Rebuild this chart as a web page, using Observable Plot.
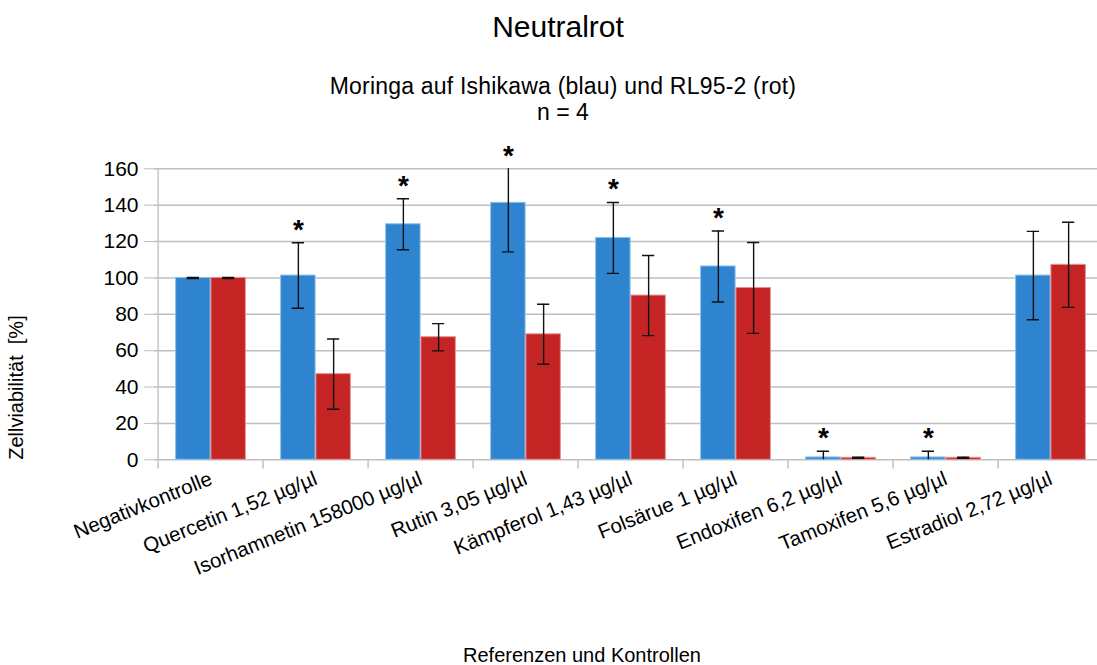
<!DOCTYPE html>
<html>
<head>
<meta charset="utf-8">
<script src="https://cdn.jsdelivr.net/npm/d3@7"></script>
<script src="https://cdn.jsdelivr.net/npm/@observablehq/plot@0.6"></script>
<style>
  html, body { margin: 0; padding: 0; background: #fff; }
  body { width: 1097px; height: 665px; position: relative; overflow: hidden; font-family: "Liberation Sans", Arial, sans-serif; color: #000; }
  .t { position: absolute; transform: translate(-50%, 0); white-space: nowrap; text-align: center; }
  #title { left: 558px; top: 11.5px; font-size: 30px; line-height: 30px; }
  #sub1 { left: 563px; top: 75px; font-size: 23px; line-height: 23px; letter-spacing: 0.2px; }
  #sub2 { left: 563px; top: 100.5px; font-size: 23px; line-height: 23px; }
  #xlabel { left: 582px; top: 645px; font-size: 20px; line-height: 20px; }
  #chart { position: absolute; left: 0; top: 122px; }
  #chart svg text { white-space: pre; }
</style>
</head>
<body>
<div id="title" class="t">Neutralrot</div>
<div id="sub1" class="t">Moringa auf Ishikawa (blau) und RL95-2 (rot)</div>
<div id="sub2" class="t">n = 4</div>
<div id="chart"></div>
<div id="xlabel" class="t">Referenzen und Kontrollen</div>
<script>
// ---- data ----
const categories = [
  "Negativkontrolle",
  "Quercetin 1,52 µg/µl",
  "Isorhamnetin 158000 µg/µl",
  "Rutin 3,05 µg/µl",
  "Kämpferol 1,43 µg/µl",
  "Folsärue 1 µg/µl",
  "Endoxifen 6,2 µg/µl",
  "Tamoxifen 5,6 µg/µl",
  "Estradiol 2,72 µg/µl"
];
const ishikawa    = [100, 101.3, 129.5, 141.3, 122.0, 106.3, 1.3, 1.3, 101.3];
const ishikawaErr = [0.3, 18.0, 14.0, 27.0, 19.5, 19.5, 3.4, 3.4, 24.3];
const rl95        = [100, 47.1, 67.4, 69.0, 90.3, 94.5, 1.1, 1.1, 107.2];
const rl95Err     = [0.3, 19.3, 7.5, 16.5, 22.0, 25.0, 0.3, 0.3, 23.4];
const significant = [false, true, true, true, true, true, true, true, false];
const yTicks = [0, 20, 40, 60, 80, 100, 120, 140, 160];
const yLabel = "Zellviabilität\u00a0 [%]";

// ---- layout ----
const W = 1097, H = 500;
const X0 = 154, X1 = 1106;             // plot area (right edge cropped by the picture)
const BW = (X1 - X0) / categories.length;
const CAP = 13;
const BLUE = "#2f84d0", RED = "#c42424";
const GRID = "#bfbfbf";
const YMAX = 160;

const blueData = categories.map((c, i) => ({cat: c, v: ishikawa[i], e: ishikawaErr[i], sig: significant[i]}));
const redData  = categories.map((c, i) => ({cat: c, v: rl95[i], e: rl95Err[i]}));

const chart = Plot.plot({
  width: W,
  height: H,
  marginLeft: X0,
  marginRight: 0,
  marginTop: 46.3,
  marginBottom: 162.7,
  style: {fontFamily: '"Liberation Sans", Arial, sans-serif', color: "#000", background: "transparent"},
  x: {domain: categories, range: [X0, X1], padding: 0, axis: null},
  y: {domain: [0, YMAX], axis: null},
  marks: [
    // grid
    Plot.ruleY(yTicks, {stroke: GRID, strokeWidth: 1.4}),
    // y axis line
    Plot.ruleX([categories[0]], {x: d => d, dx: -BW / 2, y1: 0, y2: YMAX, stroke: GRID, strokeWidth: 1.4}),
    // category boundary ticks
    Plot.ruleX(categories, {x: d => d, dx: -BW / 2, y1: 0, y2: -5, stroke: GRID, strokeWidth: 1.4}),
    // y axis ticks and labels
    Plot.axisY(yTicks, {tickSize: 10, tickPadding: 6, fontSize: 21, stroke: GRID, fill: "#000", label: null}),
    // x labels
    Plot.axisX({tickSize: 0, tickPadding: 18, tickRotate: -22, fontSize: 20.5, fill: "#000", label: null}),
    // bars
    Plot.barY(blueData, {x: "cat", y: "v", fill: BLUE, stroke: "#8ec0ec", strokeWidth: 1, insetLeft: BW / 6, insetRight: BW / 2}),
    Plot.barY(redData, {x: "cat", y: "v", fill: RED, stroke: "#e59393", strokeWidth: 1, insetLeft: BW / 2, insetRight: BW / 6}),
    // error bars
    Plot.ruleX(blueData, {x: "cat", y1: d => d.v - d.e, y2: d => d.v + d.e, dx: -BW / 6, stroke: "#111", strokeWidth: 1.4, clip: true}),
    Plot.ruleX(redData, {x: "cat", y1: d => d.v - d.e, y2: d => d.v + d.e, dx: BW / 6, stroke: "#111", strokeWidth: 1.4, clip: true}),
    Plot.tickY(blueData, {x: "cat", y: d => d.v + d.e, insetLeft: BW / 3 - CAP / 2, insetRight: 2 * BW / 3 - CAP / 2, stroke: "#111", strokeWidth: 1.4, clip: true}),
    Plot.tickY(blueData, {x: "cat", y: d => d.v - d.e, insetLeft: BW / 3 - CAP / 2, insetRight: 2 * BW / 3 - CAP / 2, stroke: "#111", strokeWidth: 1.4, clip: true}),
    Plot.tickY(redData, {x: "cat", y: d => d.v + d.e, insetLeft: 2 * BW / 3 - CAP / 2, insetRight: BW / 3 - CAP / 2, stroke: "#111", strokeWidth: 1.4, clip: true}),
    Plot.tickY(redData, {x: "cat", y: d => d.v - d.e, insetLeft: 2 * BW / 3 - CAP / 2, insetRight: BW / 3 - CAP / 2, stroke: "#111", strokeWidth: 1.4, clip: true}),
    // significance asterisks
    Plot.text(blueData.filter(d => d.sig), {x: "cat", y: d => Math.min(d.v + d.e, YMAX), text: () => "*", dx: -BW / 6, dy: -13, fontSize: 28, fontWeight: "bold", fill: "#000"}),
    // y axis title
    Plot.text([yLabel], {frameAnchor: "bottom-left", text: d => d, dx: -132, rotate: -90, textAnchor: "start", fontSize: 20, fill: "#000"})
  ]
});
document.getElementById("chart").appendChild(chart);
</script>
</body>
</html>
